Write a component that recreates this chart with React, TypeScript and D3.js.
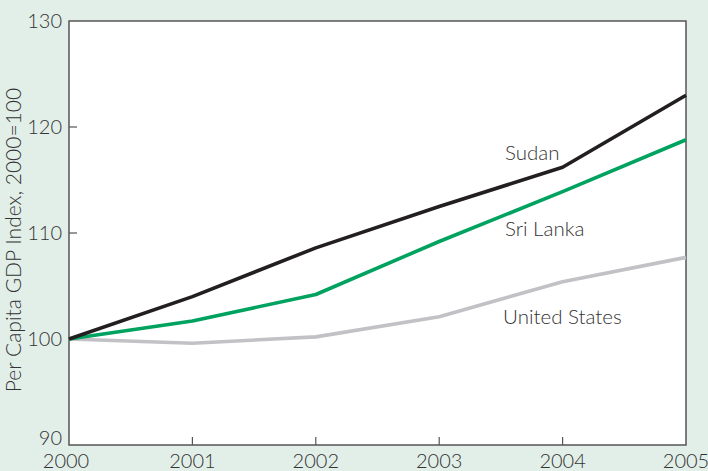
import React, { useEffect, useRef } from "react";
import * as d3 from "d3";

const years = [2000, 2001, 2002, 2003, 2004, 2005];
const sudan = [100, 104.0, 108.6, 112.5, 116.2, 123.0];
const sriLanka = [100, 101.7, 104.2, 109.2, 113.9, 118.8];
const unitedStates = [100, 99.6, 100.2, 102.1, 105.4, 107.7];
const yTicks = [90, 100, 110, 120, 130];
const seriesNames = ["Sudan", "Sri Lanka", "United States"];
const yTitle = "Per Capita GDP Index, 2000=100";

const W = 708;
const H = 471;
const M = { left: 69, right: 22, top: 21, bottom: 26 };
const FONT = "Lato, 'Open Sans', sans-serif";
const TEXT = "#333333";

export default function App() {
  const ref = useRef<SVGSVGElement | null>(null);

  useEffect(() => {
    document.body.style.margin = "0";
    const svg = d3.select(ref.current);
    svg.selectAll("*").remove();

    const x = d3.scaleLinear().domain([2000, 2005]).range([M.left, W - M.right]);
    const y = d3.scaleLinear().domain([90, 130]).range([H - M.bottom, M.top]);

    svg.append("rect").attr("width", W).attr("height", H).attr("fill", "#e2efe9");
    svg
      .append("rect")
      .attr("x", x(2000))
      .attr("y", y(130))
      .attr("width", x(2005) - x(2000))
      .attr("height", y(90) - y(130))
      .attr("fill", "#ffffff")
      .attr("stroke", "#555555")
      .attr("stroke-width", 1.5);

    // y ticks
    const yt = svg.append("g");
    yTicks.forEach((t) => {
      if (t !== 90 && t !== 130) {
        yt.append("line")
          .attr("x1", x(2000))
          .attr("x2", x(2000) + 8)
          .attr("y1", y(t))
          .attr("y2", y(t))
          .attr("stroke", "#555555")
          .attr("stroke-width", 1.2);
      }
      yt.append("text")
        .attr("x", 62)
        .attr("y", y(t) + (t === 90 ? 0 : 6.5))
        .attr("text-anchor", "end")
        .attr("font-family", FONT)
        .attr("font-weight", 300)
        .attr("font-size", 20)
        .attr("fill", TEXT)
        .text(String(t));
    });

    // x ticks
    const xt = svg.append("g");
    years.forEach((yr) => {
      if (yr !== 2000 && yr !== 2005) {
        xt.append("line")
          .attr("x1", x(yr))
          .attr("x2", x(yr))
          .attr("y1", y(90))
          .attr("y2", y(90) - 8)
          .attr("stroke", "#555555")
          .attr("stroke-width", 1.2);
      }
      xt.append("text")
        .attr("x", yr === 2005 ? Math.min(x(yr), W - 22) : x(yr) - (yr === 2000 ? 3 : 0))
        .attr("y", 468)
        .attr("text-anchor", "middle")
        .attr("font-family", FONT)
        .attr("font-weight", 300)
        .attr("font-size", 20)
        .attr("fill", TEXT)
        .text(String(yr));
    });

    // y title
    svg
      .append("text")
      .attr("transform", `translate(21,240) rotate(-90)`)
      .attr("text-anchor", "middle")
      .attr("font-family", FONT)
      .attr("font-weight", 300)
      .attr("font-size", 21)
      .attr("fill", TEXT)
      .text(yTitle);

    const line = d3
      .line<number>()
      .x((_, i) => x(years[i]))
      .y((d) => y(d));

    const series = [
      { values: unitedStates, color: "#c2c2c6" },
      { values: sriLanka, color: "#00a260" },
      { values: sudan, color: "#231f20" },
    ];
    series.forEach((s) => {
      svg
        .append("path")
        .attr("d", line(s.values) || "")
        .attr("fill", "none")
        .attr("stroke", s.color)
        .attr("stroke-width", 3.6)
        .attr("stroke-linejoin", "round");
    });

    const labels = [
      { name: seriesNames[0], x: 505, y: 160 },
      { name: seriesNames[1], x: 505, y: 236 },
      { name: seriesNames[2], x: 503, y: 324 },
    ];
    labels.forEach((l) => {
      svg
        .append("text")
        .attr("x", l.x)
        .attr("y", l.y)
        .attr("font-family", FONT)
        .attr("font-weight", 300)
        .attr("font-size", 20.5)
        .attr("fill", TEXT)
        .text(l.name);
    });
  }, []);

  return <svg ref={ref} width={W} height={H} style={{ display: "block" }} />;
}
